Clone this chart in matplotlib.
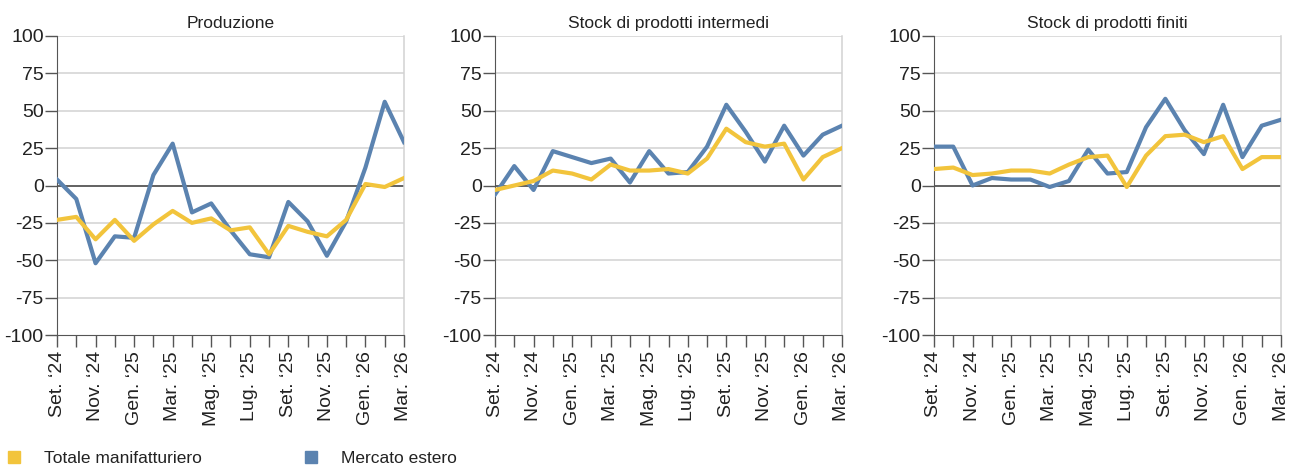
import matplotlib.pyplot as plt
from matplotlib.lines import Line2D

plt.rcParams['font.family'] = ['Liberation Sans', 'DejaVu Sans']
plt.rcParams['axes.unicode_minus'] = False

months = ["Set. \u201824", "Ott. \u201824", "Nov. \u201824", "Dic. \u201824", "Gen. \u201825", "Feb. \u201825",
          "Mar. \u201825", "Apr. \u201825", "Mag. \u201825", "Giu. \u201825", "Lug. \u201825", "Ago. \u201825",
          "Set. \u201825", "Ott. \u201825", "Nov. \u201825", "Dic. \u201825", "Gen. \u201826", "Feb. \u201826",
          "Mar. \u201826"]

titles = ['Produzione', 'Stock di prodotti intermedi', 'Stock di prodotti finiti']

# Totale manifatturiero
prod_tot = [-23, -21, -36, -23, -37, -26, -17, -25, -22, -30, -28, -46, -27, -31, -34, -23, 1, -1, 5]
interm_tot = [-3, 0, 3, 10, 8, 4, 14, 10, 10, 11, 8, 18, 38, 29, 26, 28, 4, 19, 25]
finiti_tot = [11, 12, 7, 8, 10, 10, 8, 14, 19, 20, -1, 20, 33, 34, 29, 33, 11, 19, 19]

# Mercato estero
prod_est = [4, -9, -52, -34, -35, 7, 28, -18, -12, -30, -46, -48, -11, -24, -47, -24, 12, 56, 29]
interm_est = [-6, 13, -3, 23, 19, 15, 18, 2, 23, 8, 9, 26, 54, 36, 16, 40, 20, 34, 40]
finiti_est = [26, 26, 0, 5, 4, 4, -1, 3, 24, 8, 9, 39, 58, 37, 21, 54, 19, 40, 44]

tot_series = [prod_tot, interm_tot, finiti_tot]
est_series = [prod_est, interm_est, finiti_est]

yellow = '#F2C43C'
blue = '#5B83B0'

fig = plt.figure(figsize=(12.99, 4.71), dpi=100)
lefts = [57, 495, 934]
W, H = 1299, 471
x = list(range(len(months)))

for i in range(3):
    ax = fig.add_axes([lefts[i] / W, (H - 335) / H, 347 / W, 299 / H])
    for v in range(-100, 101, 25):
        if v == 0:
            ax.axhline(0, color='#555555', lw=1.3, zorder=2)
        elif v != -100:
            ax.axhline(v, color='#d2d2d2', lw=1.1, zorder=1)
    ax.plot(x, est_series[i], color=blue, lw=3.0, zorder=3)
    ax.plot(x, tot_series[i], color=yellow, lw=3.0, zorder=4)
    ax.set_xlim(0, len(months) - 1)
    ax.set_ylim(-100, 100)
    ax.set_yticks(range(-100, 101, 25))
    ax.set_xticks(x)
    ax.set_xticklabels([m if j % 2 == 0 else '' for j, m in enumerate(months)], rotation=90)
    ax.spines['top'].set_visible(False)
    ax.spines['right'].set_color('#d2d2d2')
    ax.spines['right'].set_linewidth(1.1)
    ax.spines['left'].set_color('#555555')
    ax.spines['bottom'].set_color('#555555')
    ax.tick_params(axis='y', length=8.6, width=1, color='#555555', labelsize=14, pad=1,
                   labelcolor='#222222')
    ax.tick_params(axis='x', length=8.6, width=1, color='#555555', labelsize=14, pad=3,
                   labelcolor='#222222')
    ax.set_title(titles[i], fontsize=12.5, pad=6, color='#222222')

handles = [Line2D([], [], marker='s', ls='', color=yellow, markersize=8.5),
           Line2D([], [], marker='s', ls='', color=blue, markersize=8.5)]
fig.legend(handles, ['Totale manifatturiero', 'Mercato estero'], loc='center left',
           bbox_to_anchor=(4 / W, 13 / H), ncol=2, frameon=False, fontsize=12.5,
           handletextpad=1.1, columnspacing=5.7, handlelength=1.2,
           borderpad=0, borderaxespad=0, labelcolor='#222222')

fig.savefig('out.png', dpi=100)
